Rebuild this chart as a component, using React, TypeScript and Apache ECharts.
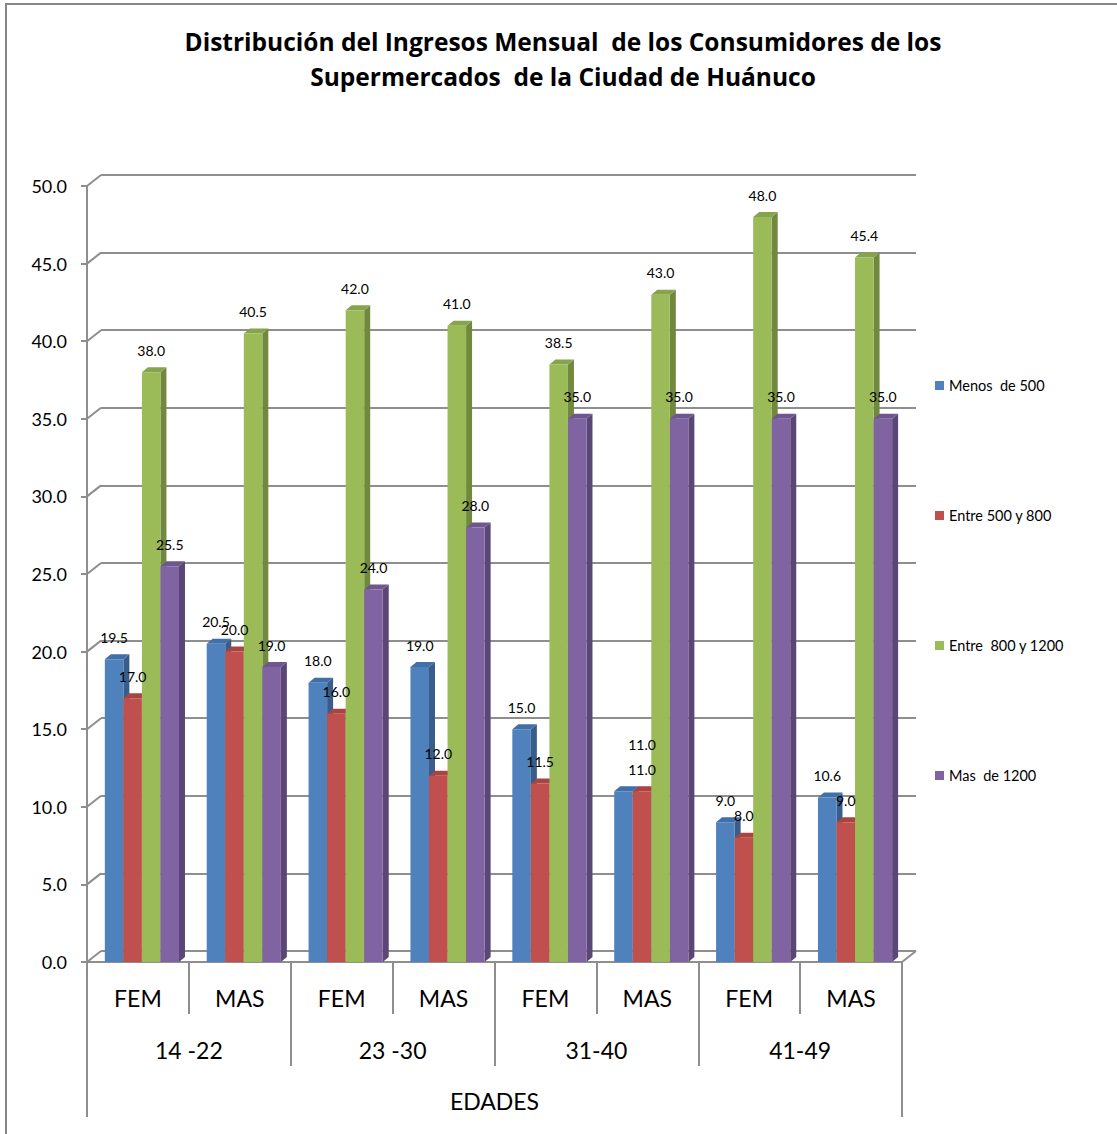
import React, { useEffect, useRef } from "react";
import * as echarts from "echarts";

// Sub-categories (sex) along the x axis, grouped by age range
const categories = ["FEM", "MAS", "FEM", "MAS", "FEM", "MAS", "FEM", "MAS"];
const ageGroups = ["14 -22", "23 -30", "31-40", "41-49"];
const axisTitle = ["EDADES"];

// Monthly income bands
const seriesNames = ["Menos  de 500", "Entre 500 y 800", "Entre  800 y 1200", "Mas  de 1200"];
const menos500 = [19.5, 20.5, 18.0, 19.0, 15.0, 11.0, 9.0, 10.6];
const entre500y800 = [17.0, 20.0, 16.0, 12.0, 11.5, 11.0, 8.0, 9.0];
const entre800y1200 = [38.0, 40.5, 42.0, 41.0, 38.5, 43.0, 48.0, 45.4];
const mas1200 = [25.5, 19.0, 24.0, 28.0, 35.0, 35.0, 35.0, 35.0];

const yTicks = [0, 5, 10, 15, 20, 25, 30, 35, 40, 45, 50];

const allValues = [menos500, entre500y800, entre800y1200, mas1200];

// front / side / top shades for each 3D bar colour
const palette = [
  { front: "#4F81BD", side: "#385D8A", top: "#416FA8" },
  { front: "#C0504D", side: "#8C3A38", top: "#A84541" },
  { front: "#9BBB59", side: "#71893F", top: "#86A44B" },
  { front: "#8064A2", side: "#5B4776", top: "#6E568E" },
];

const FONT = "Lato, 'Open Sans', sans-serif";
const TITLE_FONT = "'Open Sans', Lato, sans-serif";
const GRID_LINE = "#8e8e8e";
const DEPTH_X = 14; // wall offset behind the bars
const DEPTH_Y = -11;
const BAR_DX = 6; // bar thickness
const BAR_DY = -5;

function makeBarRenderer(k: number) {
  return (params: any, api: any) => {
    const ci = api.value(0) as number;
    const v = api.value(1) as number;
    const band = api.size([1, 0])[0];
    const base = api.coord([ci, 0]);
    const top = api.coord([ci, v]);
    const w = band * 0.182;
    const x0 = base[0] - band * 0.325 + k * w;
    const x1 = x0 + w;
    const y0 = base[1];
    const yt = top[1];
    const c = palette[k];

    // label placement; equal neighbouring values get stacked labels
    let lx = x0 + w / 2;
    let ly = yt - 22;
    if (k === 0 && allValues[0][ci] === allValues[1][ci]) {
      lx = x1 + w / 2;
    }
    if (k === 1 && allValues[0][ci] === allValues[1][ci]) {
      ly = yt - 47;
    }

    return {
      type: "group",
      children: [
        {
          type: "polygon",
          shape: { points: [[x1, y0], [x1 + BAR_DX, y0 + BAR_DY], [x1 + BAR_DX, yt + BAR_DY], [x1, yt]] },
          style: { fill: c.side },
        },
        {
          type: "polygon",
          shape: { points: [[x0, yt], [x0 + BAR_DX, yt + BAR_DY], [x1 + BAR_DX, yt + BAR_DY], [x1, yt]] },
          style: { fill: c.top },
        },
        {
          type: "rect",
          shape: { x: x0, y: yt, width: w, height: y0 - yt },
          style: { fill: c.front },
        },
        {
          type: "text",
          z2: 100,
          style: {
            text: v.toFixed(1),
            x: lx,
            y: ly,
            align: "center",
            verticalAlign: "middle",
            fill: "#000",
            font: `14px ${FONT}`,
          },
        },
      ],
    };
  };
}

// diagonal edges joining the front axis to the back wall
function wallEdgeRenderer(params: any, api: any) {
  const v = api.value(1) as number;
  const band = api.size([1, 0])[0];
  const p = api.coord([0, v]);
  const xl = p[0] - band / 2;
  const children: any[] = [
    {
      type: "line",
      shape: { x1: xl, y1: p[1], x2: xl + DEPTH_X, y2: p[1] + DEPTH_Y },
      style: { stroke: GRID_LINE, lineWidth: 2 },
    },
  ];
  if (v === 0) {
    const pr = api.coord([categories.length - 1, 0]);
    const xr = pr[0] + band / 2;
    children.push({
      type: "line",
      shape: { x1: xr, y1: pr[1], x2: xr + DEPTH_X, y2: pr[1] + DEPTH_Y },
      style: { stroke: GRID_LINE, lineWidth: 2 },
    });
  }
  return { type: "group", children };
}

export default function App() {
  const ref = useRef<HTMLDivElement>(null);

  useEffect(() => {
    if (!ref.current) return;
    const chart = echarts.init(ref.current, undefined, { renderer: "svg" });

    const lineStyle = { color: GRID_LINE, width: 2 };
    const front = { left: 87, right: 215, top: 186, bottom: 172 };

    const barSeries = seriesNames.map((name, k) => ({
      name,
      type: "custom",
      xAxisIndex: 0,
      yAxisIndex: 0,
      encode: { x: 0, y: 1 },
      itemStyle: { color: palette[k].front },
      renderItem: makeBarRenderer(k),
      data: allValues[k].map((v, i) => [i, v]),
      z: 5,
    }));

    chart.setOption({
      animation: false,
      backgroundColor: "#fff",
      title: {
        text: "Distribución del Ingresos Mensual  de los Consumidores de los\nSupermercados  de la Ciudad de Huánuco",
        left: 563,
        top: 24,
        padding: 0,
        textAlign: "center",
        textStyle: { fontFamily: TITLE_FONT, fontWeight: "bold", fontSize: 24.5, lineHeight: 35, color: "#000" },
      },
      legend: {
        data: seriesNames,
        orient: "vertical",
        left: 935,
        top: 378,
        padding: 0,
        itemWidth: 9,
        itemHeight: 9,
        itemGap: 115,
        icon: "rect",
        textStyle: { fontFamily: FONT, fontSize: 14.5, color: "#000" },
      },
      graphic: [
        {
          type: "rect",
          shape: { x: 6, y: 4, width: 1300, height: 1300 },
          style: { fill: "none", stroke: "#868686", lineWidth: 2 },
          silent: true,
        },
      ],
      grid: [
        front,
        {
          left: front.left + DEPTH_X,
          right: front.right - DEPTH_X,
          top: front.top + DEPTH_Y,
          bottom: front.bottom - DEPTH_Y,
        },
      ],
      xAxis: [
        {
          gridIndex: 0,
          type: "category",
          data: categories,
          position: "bottom",
          axisLine: { show: true, lineStyle },
          axisTick: { show: true, interval: 0, length: 52, lineStyle },
          axisLabel: { interval: 0, margin: 24, fontFamily: FONT, fontSize: 23, color: "#000" },
          splitLine: { show: false },
        },
        {
          gridIndex: 0,
          type: "category",
          data: ageGroups,
          position: "bottom",
          offset: 0,
          axisLine: { show: false },
          axisTick: { show: true, interval: 0, length: 104, lineStyle },
          axisLabel: { interval: 0, margin: 76, fontFamily: FONT, fontSize: 23, color: "#000" },
          splitLine: { show: false },
        },
        {
          gridIndex: 0,
          type: "category",
          data: axisTitle,
          position: "bottom",
          offset: 0,
          axisLine: { show: false },
          axisTick: { show: true, interval: 0, length: 155, lineStyle },
          axisLabel: { interval: 0, margin: 127, fontFamily: FONT, fontSize: 23, color: "#000" },
          splitLine: { show: false },
        },
        { gridIndex: 1, type: "value", min: 0, max: 1, show: false },
      ],
      yAxis: [
        {
          gridIndex: 0,
          type: "value",
          min: 0,
          max: 50,
          interval: 5,
          axisLine: { show: true, lineStyle },
          axisTick: { show: true, length: 6, lineStyle },
          axisLabel: {
            margin: 20,
            fontFamily: FONT,
            fontSize: 18,
            color: "#000",
            formatter: (v: number) => v.toFixed(1),
          },
          splitLine: { show: false },
        },
        {
          gridIndex: 1,
          type: "value",
          min: 0,
          max: 50,
          interval: 5,
          axisLine: { show: false },
          axisTick: { show: false },
          axisLabel: { show: false },
          splitLine: { show: true, lineStyle },
        },
      ],
      series: [
        {
          name: "wall",
          type: "custom",
          xAxisIndex: 0,
          yAxisIndex: 0,
          encode: { x: 0, y: 1 },
          silent: true,
          renderItem: wallEdgeRenderer,
          data: yTicks.map((v) => [0, v]),
          z: 1,
        },
        ...barSeries,
      ],
    });

    return () => chart.dispose();
  }, []);

  return (
    <div
      ref={ref}
      style={{ position: "absolute", left: 0, top: 0, width: 1117, height: 1134 }}
    />
  );
}
